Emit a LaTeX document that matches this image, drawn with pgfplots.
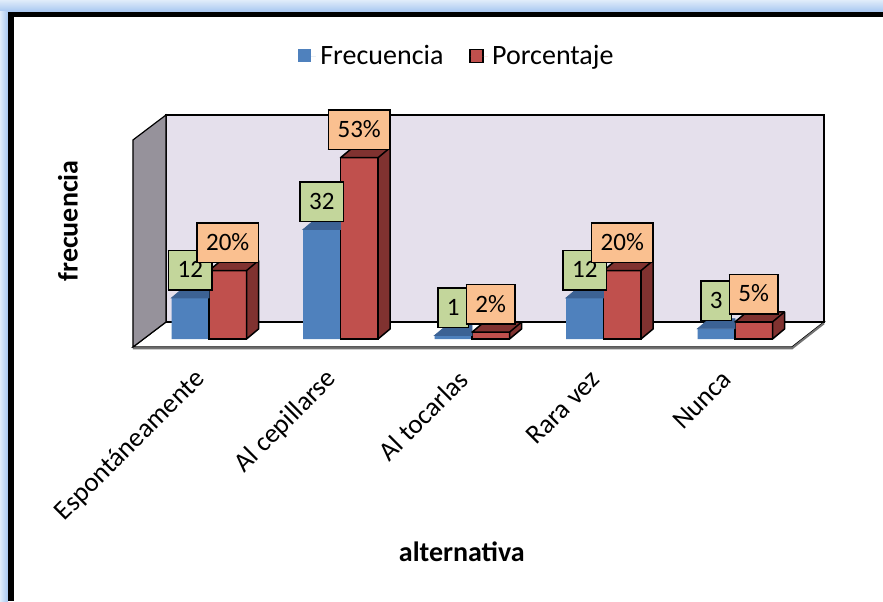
\documentclass[border=0pt]{standalone}
\usepackage{pgfplots}
\usepackage{pgfplotstable}
\pgfplotsset{compat=1.18}
\usepackage{fontspec}
\setmainfont{Carlito}

\definecolor{frecBlue}{RGB}{79,129,189}
\definecolor{frecTop}{RGB}{60,98,148}
\definecolor{porcRed}{RGB}{192,80,77}
\definecolor{porcDark}{RGB}{128,50,48}
\definecolor{wallBack}{RGB}{229,224,236}
\definecolor{wallSide}{RGB}{150,146,155}
\definecolor{lblGreen}{RGB}{195,214,155}
\definecolor{lblOrange}{RGB}{250,192,144}
\definecolor{glowLight}{RGB}{224,236,250}
\definecolor{glowDark}{RGB}{166,198,240}

\setlength{\fboxsep}{0pt}
\setlength{\fboxrule}{0.75pt}
% framed value box: 19pt high, 4.2pt of room on each side
\newcommand{\valbox}[2]{\fcolorbox{black}{#1}{\rule[-5.55pt]{0pt}{19pt}\hspace{4.2pt}#2\hspace{4.2pt}}}

% empty mark: the 3D faces are drawn by the scatter marker code
\pgfdeclareplotmark{nothing}{}

\pgfplotstableread{
pos frec porc
0   12   20
1   32   53
2   1    2
3   12   20
4   3    5
}\datos

\begin{document}
\begin{tikzpicture}
\useasboundingbox (0,0) rectangle (441.5pt,300.5pt);
% outer glow and frame
\fill[glowLight] (0,0) rectangle (441.5pt,300.5pt);
\shade[top color=glowLight, bottom color=glowDark] (0,294.5pt) rectangle (441.5pt,300.5pt);
\shade[left color=glowLight, right color=glowDark] (0,0) rectangle (4pt,294.5pt);
\fill[black] (4pt,0) rectangle (441.5pt,294.5pt);
\fill[white] (7pt,0) rectangle (441.5pt,291.8pt);

\begin{axis}[
  at={(65.05pt,125.87pt)}, anchor=south west,
  x=65.75pt, y=1.71pt,
  xmin=-0.6, xmax=4.7, ymin=-3, ymax=67,
  clip=false,
  /pgf/number format/assume math mode=true,
  axis lines*=left,
  axis line style={draw=none},
  ytick=\empty,
  xtick={0,1,2,3,4},
  xticklabels={Espontáneamente, Al cepillarse, Al tocarlas, Rara vez, Nunca},
  major tick length=0pt,
  xtick style={draw=none},
  xticklabel style={xshift=-2.5pt, yshift=-11.5pt, rotate=45, anchor=east, inner sep=2pt,
    font=\fontsize{13.5}{16}\selectfont},
  xlabel={alternativa},
  xlabel style={at={(rel axis cs:0.476,-0.847)}, anchor=center,
    font=\bfseries\fontsize{14}{17}\selectfont},
  ylabel={frecuencia},
  ylabel style={at={(rel axis cs:-0.0891,0.536)}, anchor=center,
    font=\bfseries\fontsize{14}{17}\selectfont},
  legend columns=2,
  legend style={at={(rel axis cs:0.4704,1.225)}, anchor=center, draw=none, fill=none,
    font=\fontsize{14}{17}\selectfont,
    /tikz/every even column/.append style={column sep=11pt}},
]

% floor, back wall and side wall
\filldraw[fill=white, draw=black, line width=0.6pt]
  (axis cs:-0.578,-2.34) -- (axis cs:4.433,-2.34) -- (axis cs:4.677,4.97)
  -- (axis cs:-0.327,4.97) -- cycle;
\draw[black!55, line width=1pt]
  (axis cs:-0.578,-2.75) -- (axis cs:4.433,-2.75) -- (axis cs:4.677,4.6);
\filldraw[fill=wallBack, draw=black, line width=0.6pt]
  (axis cs:-0.327,4.97) rectangle (axis cs:4.677,65.5);
\filldraw[fill=wallSide, draw=black, line width=0.6pt]
  (axis cs:-0.578,-2.34) -- (axis cs:-0.327,4.97) -- (axis cs:-0.327,65.5)
  -- (axis cs:-0.578,58.2) -- cycle;

% Frecuencia: top face (its side is hidden behind the Porcentaje bar)
\addplot[forget plot, only marks, mark=nothing, scatter,
  scatter/@pre marker code/.code={%
    \fill[frecTop] (-18.75pt,0pt) -- (-12.75pt,5pt) -- (0pt,5pt) -- (0pt,0pt) -- cycle;
  },
  scatter/@post marker code/.code={},
] table[x=pos, y=frec] {\datos};

% Frecuencia: front faces
\addplot[ybar, bar width=18.75pt, bar shift=-9.375pt, fill=frecBlue, draw=none,
  legend image code/.code={\fill[frecBlue] (0pt,-3.25pt) rectangle (6.5pt,3.25pt);
    \path[draw=none] (0pt,0pt) rectangle (9pt,0pt);}]
  table[x=pos, y=frec] {\datos};
\addlegendentry{Frecuencia}

% Porcentaje: top and side faces
\addplot[forget plot, only marks, mark=nothing, scatter,
  visualization depends on={y \as \hv},
  scatter/@pre marker code/.code={%
    \filldraw[fill=porcDark, draw=black, line width=0.75pt, line join=round]
      (0pt,0pt) -- (6pt,5pt) -- (24.75pt,5pt) -- ({24.75pt},{5pt-\hv*1.71pt})
      -- ({18.75pt},{-\hv*1.71pt}) -- (18.75pt,0pt) -- cycle;
    \draw[black, line width=0.75pt] (18.75pt,0pt) -- (24.75pt,5pt);
  },
  scatter/@post marker code/.code={},
] table[x=pos, y=porc] {\datos};

% Porcentaje: front faces
\addplot[ybar, bar width=18.75pt, bar shift=9.375pt, fill=porcRed, draw=black,
  line width=0.75pt,
  legend image code/.code={\filldraw[fill=porcRed, draw=black, line width=0.75pt] (0pt,-3.25pt) rectangle (6.5pt,3.25pt);
    \path[draw=none] (0pt,0pt) rectangle (9pt,0pt);}]
  table[x=pos, y=porc] {\datos};
\addlegendentry{Porcentaje}

% value labels
\addplot[forget plot, ybar, bar width=18.75pt, bar shift=-9.375pt, draw=none, fill=none,
  nodes near coords={\valbox{lblGreen}{\pgfmathprintnumber{\pgfplotspointmeta}}},
  every node near coord/.append style={anchor=south, xshift=-9.375pt, yshift=3.5pt,
    inner sep=0pt, text=black, font=\fontsize{12.5}{15}\selectfont},
] table[x=pos, y=frec] {\datos};
\addplot[forget plot, ybar, bar width=18.75pt, bar shift=9.375pt, draw=none, fill=none,
  nodes near coords={\valbox{lblOrange}{\pgfmathprintnumber{\pgfplotspointmeta}\%}},
  every node near coord/.append style={anchor=south, xshift=9.375pt, yshift=3.5pt,
    inner sep=0pt, text=black, font=\fontsize{12.5}{15}\selectfont},
] table[x=pos, y=porc] {\datos};

\end{axis}
\end{tikzpicture}
\end{document}
